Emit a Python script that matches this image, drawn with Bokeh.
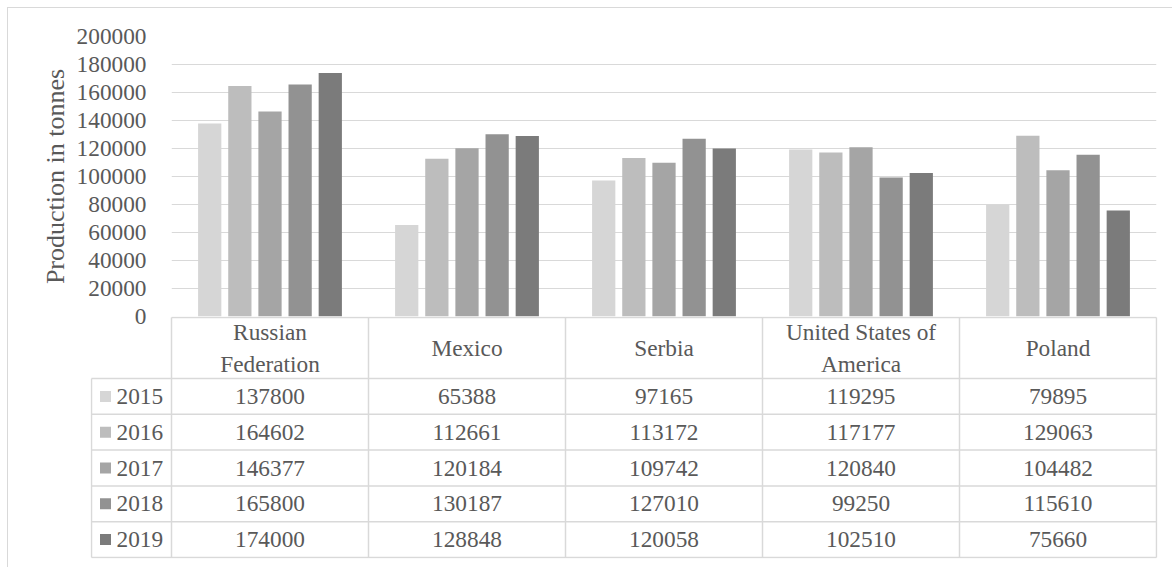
from bokeh.plotting import figure
from bokeh.models import (FactorRange, Range1d, ColumnDataSource, FixedTicker,
                          PrintfTickFormatter)
from bokeh.transform import dodge
from bokeh.layouts import column
from bokeh.core.properties import value
from bokeh.embed import file_html
from bokeh.resources import INLINE

# ---------------- data ----------------
countries = ["Russian Federation", "Mexico", "Serbia", "United States of America", "Poland"]
header_labels = ["Russian\nFederation", "Mexico", "Serbia", "United States of\nAmerica", "Poland"]
years = ["2015", "2016", "2017", "2018", "2019"]
v2015 = [137800, 65388, 97165, 119295, 79895]
v2016 = [164602, 112661, 113172, 117177, 129063]
v2017 = [146377, 120184, 109742, 120840, 104482]
v2018 = [165800, 130187, 127010, 99250, 115610]
v2019 = [174000, 128848, 120058, 102510, 75660]
y_ticks = [0, 20000, 40000, 60000, 80000, 100000, 120000, 140000, 160000, 180000, 200000]

series = [v2015, v2016, v2017, v2018, v2019]
colors = ["#d6d6d6", "#bdbdbd", "#a5a5a5", "#929292", "#7b7b7b"]
FONT = "Liberation Serif"
TXT = "#595959"
GRID = "#d9d9d9"
FS = "23.3px"

# ---------------- chart ----------------
src = ColumnDataSource(dict(country=countries, **{y: s for y, s in zip(years, series)}))

p = figure(x_range=FactorRange(factors=countries), y_range=Range1d(0, 200000),
           frame_width=985, frame_height=280,
           min_border_left=163, min_border_right=16, min_border_top=28, min_border_bottom=14,
           output_backend="svg", toolbar_location=None)
p.frame_align = False
step = 0.153
for i, (yr, c) in enumerate(zip(years, colors)):
    p.vbar(x=dodge("country", (i - 2) * step, range=p.x_range), top=yr, width=0.118,
           source=src, fill_color=c, line_color=None)

p.xaxis.visible = False
p.xgrid.visible = False
p.ygrid.grid_line_color = GRID
p.ygrid.grid_line_width = 1
p.outline_line_color = None
ax = p.yaxis[0]
ax.ticker = FixedTicker(ticks=y_ticks)
ax.formatter = PrintfTickFormatter(format="%d")
ax.axis_line_color = None
ax.major_tick_line_color = None
ax.minor_tick_line_color = None
ax.major_label_standoff = 19
ax.major_label_text_font = FONT
ax.major_label_text_font_size = FS
ax.major_label_text_color = TXT
ax.axis_label = "Production in tonnes"
ax.axis_label_text_font = FONT
ax.axis_label_text_font_size = "26px"
ax.axis_label_text_font_style = "normal"
ax.axis_label_text_color = TXT
ax.axis_label_standoff = 4

# ---------------- table ----------------
cw = 197.0          # category width in px
left_w = 80.0       # legend column width in px
hdr_h = 61.0
row_h = 35.8
x0 = -left_w / cw
t = figure(x_range=Range1d(x0 - 1 / cw, 5 + 1 / cw), y_range=Range1d(241, -1),
           frame_width=1067, frame_height=242,
           min_border_left=82, min_border_right=15, min_border_top=0, min_border_bottom=9,
           output_backend="svg", toolbar_location=None,
           styles={"margin-top": "-14px"})
t.frame_align = False
t.border_fill_color = None
t.background_fill_color = None
t.xaxis.visible = False
t.yaxis.visible = False
t.xgrid.visible = False
t.ygrid.visible = False
t.outline_line_color = None

n = len(countries)
bottom = hdr_h + row_h * len(years)
hx0, hx1, hy0, hy1 = [], [], [], []
hx0.append(0); hx1.append(n); hy0.append(0); hy1.append(0)
for k in range(len(years) + 1):
    yy = hdr_h + row_h * k
    hx0.append(x0); hx1.append(n); hy0.append(yy); hy1.append(yy)
hx0.append(x0); hx1.append(x0); hy0.append(hdr_h); hy1.append(bottom)
for i in range(n + 1):
    hx0.append(i); hx1.append(i); hy0.append(0); hy1.append(bottom)
t.segment(x0=hx0, y0=hy0, x1=hx1, y1=hy1, line_color=GRID, line_width=1.5)

t.text(x=[i + 0.5 for i in range(n)], y=[hdr_h / 2] * n, text=header_labels,
       text_align="center", text_baseline="middle", text_font=value(FONT),
       text_font_size=FS, text_color=TXT, text_line_height=1.2)

for k, (yr, s, c) in enumerate(zip(years, series, colors)):
    yc = hdr_h + row_h * (k + 0.5)
    t.text(x=[i + 0.5 for i in range(n)], y=[yc] * n, text=[str(v) for v in s],
           text_align="center", text_baseline="middle", text_font=value(FONT),
           text_font_size=FS, text_color=TXT)
    t.rect(x=[x0 + 14 / cw], y=[yc], width=11, height=11, width_units="screen",
           height_units="screen", fill_color=c, line_color=None)
    t.text(x=[x0 + 25 / cw], y=[yc], text=[yr], text_align="left", text_baseline="middle",
           text_font=value(FONT), text_font_size=FS, text_color=TXT)

layout = column(p, t, spacing=0,
                styles={"border-left": "1px solid #d9d9d9", "border-top": "1px solid #d9d9d9",
                        "margin-left": "7px", "margin-top": "7px"})
open("out.html", "w").write(file_html(layout, INLINE))
